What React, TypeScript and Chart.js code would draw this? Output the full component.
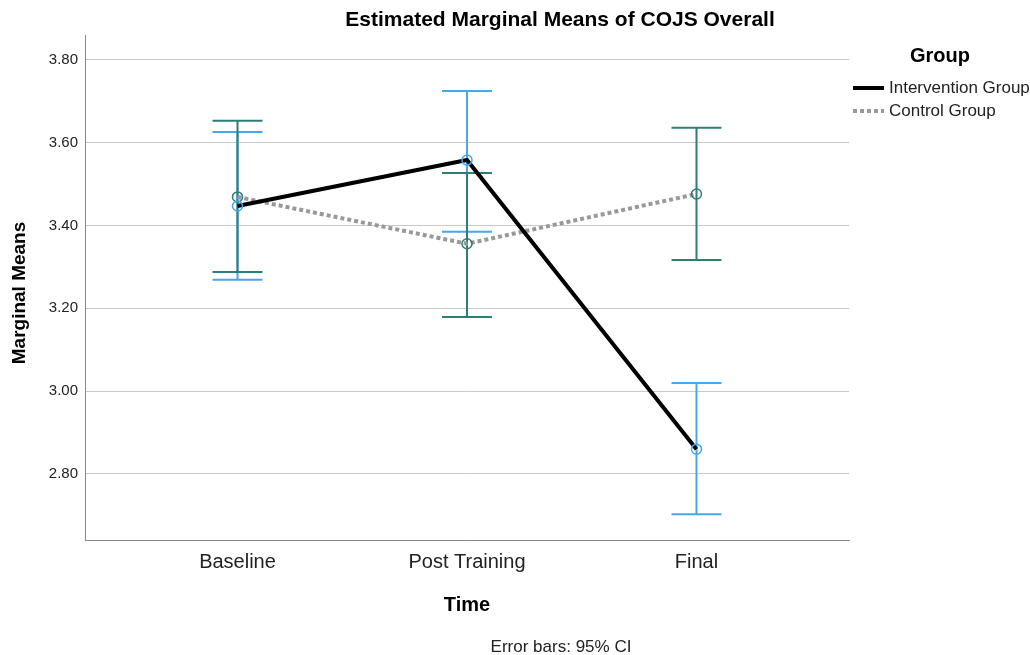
import React, { useEffect, useRef } from "react";
import { Chart, registerables } from "chart.js";

Chart.register(...registerables);

const TIME_LABELS = ["Baseline", "Post Training", "Final"];
const Y_TICKS = [2.8, 3.0, 3.2, 3.4, 3.6, 3.8];

const INTERVENTION_MEAN = [3.447, 3.558, 2.86];
const INTERVENTION_LOW = [3.269, 3.385, 2.703];
const INTERVENTION_HIGH = [3.626, 3.725, 3.02];

const CONTROL_MEAN = [3.469, 3.356, 3.476];
const CONTROL_LOW = [3.288, 3.179, 3.317];
const CONTROL_HIGH = [3.653, 3.527, 3.636];

const BLUE = "#45a8ea";
const TEAL = "#2d7d79";
const FONT = "'Liberation Sans', Arial, sans-serif";

export default function App() {
  const ref = useRef<HTMLCanvasElement | null>(null);

  useEffect(() => {
    if (!ref.current) return;

    const errorBars = {
      id: "errorBars",
      beforeDatasetsDraw(chart: any) {
        const ctx = chart.ctx;
        const xs = chart.scales.x;
        const ys = chart.scales.y;
        const draw = (lo: number[], hi: number[], color: string) => {
          ctx.save();
          ctx.strokeStyle = color;
          ctx.lineWidth = 2;
          lo.forEach((l, i) => {
            const x = xs.getPixelForValue(i);
            const y1 = ys.getPixelForValue(l);
            const y2 = ys.getPixelForValue(hi[i]);
            ctx.beginPath();
            ctx.moveTo(x, y1);
            ctx.lineTo(x, y2);
            ctx.moveTo(x - 25, y1);
            ctx.lineTo(x + 25, y1);
            ctx.moveTo(x - 25, y2);
            ctx.lineTo(x + 25, y2);
            ctx.stroke();
          });
          ctx.restore();
        };
        draw(INTERVENTION_LOW, INTERVENTION_HIGH, BLUE);
        draw(CONTROL_LOW, CONTROL_HIGH, TEAL);
      },
    };

    const texts = {
      id: "texts",
      afterDraw(chart: any) {
        const ctx = chart.ctx;
        const area = chart.chartArea;
        ctx.save();
        ctx.fillStyle = "#000";
        ctx.textBaseline = "middle";
        ctx.textAlign = "center";
        ctx.font = `bold 21px ${FONT}`;
        ctx.fillText("Estimated Marginal Means of COJS Overall", 560, 20);
        ctx.font = `bold 20px ${FONT}`;
        ctx.fillText("Time", (area.left + area.right) / 2, 605);
        ctx.fillStyle = "#222";
        ctx.font = `17px ${FONT}`;
        ctx.fillText("Error bars: 95% CI", 561, 647);
        ctx.fillStyle = "#000";
        ctx.save();
        ctx.translate(20, 293);
        ctx.rotate(-Math.PI / 2);
        ctx.font = `bold 19px ${FONT}`;
        ctx.fillText("Marginal Means", 0, 0);
        ctx.restore();
        // legend
        ctx.font = `bold 20px ${FONT}`;
        ctx.fillText("Group", 940, 56);
        ctx.lineWidth = 4;
        ctx.strokeStyle = "#000";
        ctx.beginPath();
        ctx.moveTo(853, 88);
        ctx.lineTo(884, 88);
        ctx.stroke();
        ctx.strokeStyle = "#999";
        ctx.setLineDash([4, 3]);
        ctx.beginPath();
        ctx.moveTo(853, 111);
        ctx.lineTo(884, 111);
        ctx.stroke();
        ctx.setLineDash([]);
        ctx.textAlign = "left";
        ctx.fillStyle = "#222";
        ctx.font = `17px ${FONT}`;
        ctx.fillText("Intervention Group", 889, 88);
        ctx.fillText("Control Group", 889, 111);
        ctx.restore();
      },
    };

    const chart = new Chart(ref.current, {
      type: "line",
      data: {
        datasets: [
          {
            label: "Intervention Group",
            data: INTERVENTION_MEAN.map((v, i) => ({ x: i, y: v })),
            borderColor: "#000",
            borderWidth: 4,
            pointRadius: 5,
            pointBorderWidth: 1.5,
            pointBorderColor: BLUE,
            pointBackgroundColor: "rgba(0,0,0,0)",
            tension: 0,
            order: 1,
          },
          {
            label: "Control Group",
            data: CONTROL_MEAN.map((v, i) => ({ x: i, y: v })),
            borderColor: "#999",
            borderWidth: 4,
            borderDash: [4, 3],
            pointRadius: 5,
            pointBorderWidth: 1.5,
            pointBorderColor: TEAL,
            pointBackgroundColor: "rgba(0,0,0,0)",
            tension: 0,
            order: 2,
          },
        ],
      },
      options: {
        animation: false,
        responsive: false,
        layout: { padding: { top: 35, right: 181, left: 0, bottom: 0 } },
        plugins: {
          legend: { display: false },
          tooltip: { enabled: false },
          title: { display: false },
        },
        scales: {
          x: {
            type: "linear",
            min: -0.6645,
            max: 2.6645,
            afterFit(scale: any) {
              scale.height = 115;
            },
            afterBuildTicks(scale: any) {
              scale.ticks = TIME_LABELS.map((_, i) => ({ value: i }));
            },
            ticks: {
              autoSkip: false,
              maxRotation: 0,
              padding: 10,
              color: "#222",
              font: { family: FONT, size: 20 },
              callback: (v: any) => TIME_LABELS[v as number] ?? "",
            },
            grid: { display: false, drawTicks: false },
            border: { display: true, color: "#888", width: 1 },
          },
          y: {
            type: "linear",
            min: 2.6406,
            max: 3.86,
            afterFit(scale: any) {
              scale.width = 85;
            },
            afterBuildTicks(scale: any) {
              scale.ticks = Y_TICKS.map((v) => ({ value: v }));
            },
            ticks: {
              padding: 7,
              color: "#222",
              font: { family: FONT, size: 15 },
              callback: (v: any) => Number(v).toFixed(2),
            },
            grid: { color: "#c8c8c8", lineWidth: 1, drawTicks: false },
            border: { display: true, color: "#888", width: 1 },
          },
        },
      },
      plugins: [errorBars, texts],
    } as any);

    return () => chart.destroy();
  }, []);

  return (
    <div style={{ position: "fixed", left: 0, top: 0, width: 1030, height: 655, background: "#fff" }}>
      <canvas ref={ref} width={1030} height={655} />
    </div>
  );
}
